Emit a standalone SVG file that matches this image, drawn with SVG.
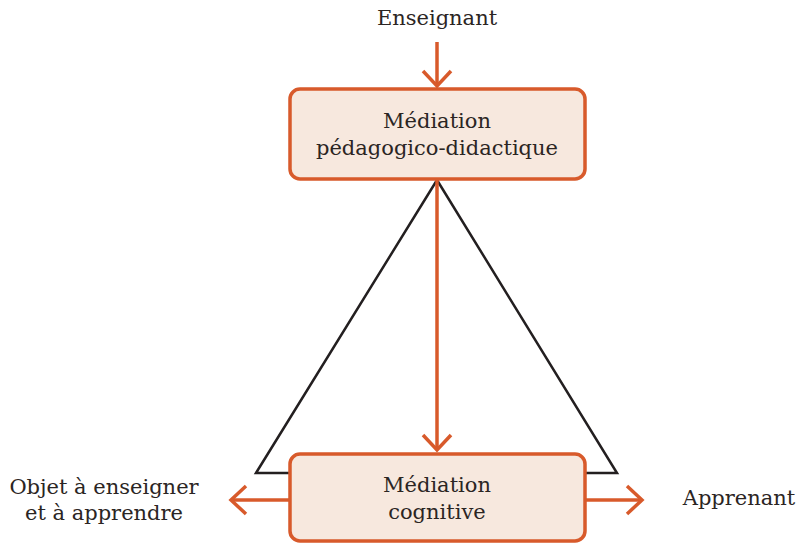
<svg xmlns="http://www.w3.org/2000/svg" width="799" height="544" viewBox="0 0 799 544">
<defs>
<marker id="chev" viewBox="0 0 20 32" refX="17" refY="16" markerWidth="20" markerHeight="32" markerUnits="userSpaceOnUse" orient="auto">
<path d="M2,2 L17,16 L2,30" fill="none" stroke="#d85a2b" stroke-width="3.5"/>
</marker>
<style>
.box{fill:#f7e8de;stroke:#d85a2b;stroke-width:3.5}
.arr{stroke:#d85a2b;stroke-width:3.5;fill:none;marker-end:url(#chev)}
.tri{fill:none;stroke:#231f20;stroke-width:2.5}
text{font-family:"DejaVu Serif","Liberation Serif",serif;font-size:21px;fill:#2b2523;text-anchor:middle}
</style>
</defs>
<g id="triangle">
<polyline class="tri" points="437,180 256,473 617,473 437,180"/>
</g>
<g id="connectors">
<line class="arr" x1="437" y1="42" x2="437" y2="86"/>
<line class="arr" x1="437" y1="180" x2="437" y2="450"/>
<line class="arr" x1="290" y1="500" x2="231" y2="500"/>
<line class="arr" x1="585" y1="500" x2="642" y2="500"/>
</g>
<g id="enseignant"><text x="437" y="25">Enseignant</text></g>
<g id="mediation-pedagogique">
<rect class="box" x="290" y="89" width="295" height="90" rx="10"/>
<text x="437" y="128">Médiation</text>
<text x="437" y="155">pédagogico-didactique</text>
</g>
<g id="mediation-cognitive">
<rect class="box" x="290" y="454" width="295" height="87" rx="10"/>
<text x="437" y="492">Médiation</text>
<text x="437" y="519">cognitive</text>
</g>
<g id="objet">
<text x="104" y="494">Objet à enseigner</text>
<text x="104" y="520">et à apprendre</text>
</g>
<g id="apprenant"><text x="739" y="505">Apprenant</text></g>
</svg>
